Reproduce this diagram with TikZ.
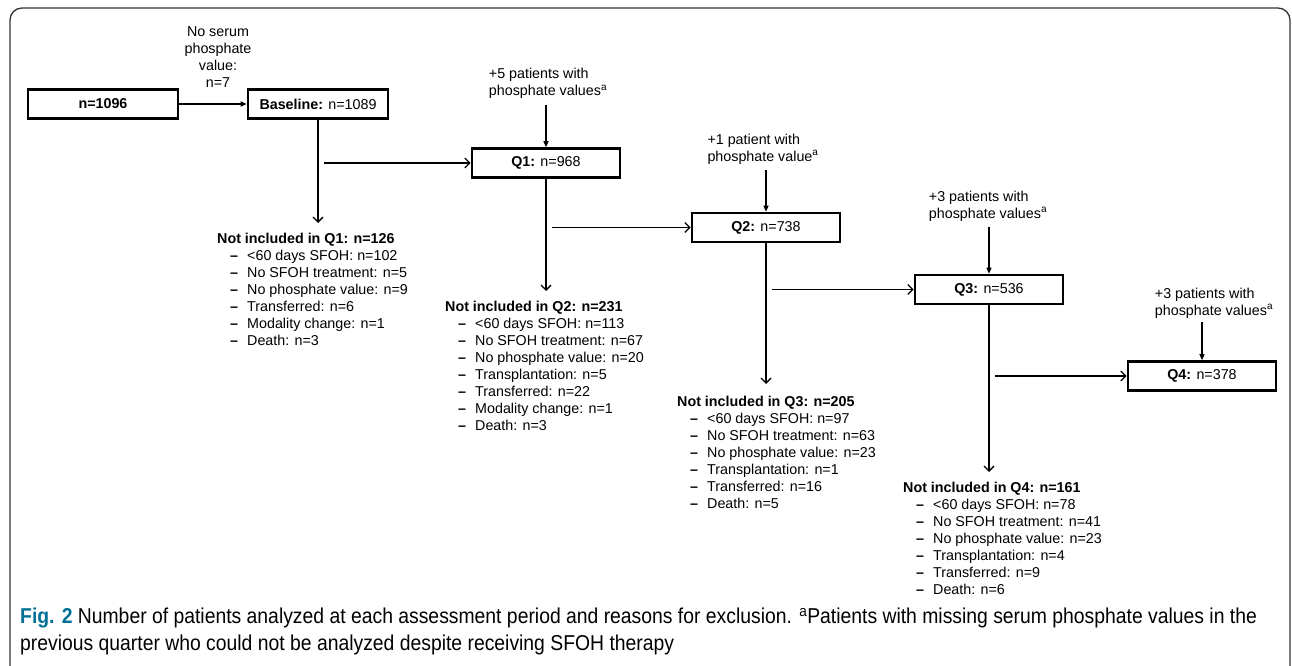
\documentclass[tikz,border=0pt]{standalone}
\usepackage{fontspec}
\setmainfont{Liberation Sans}
\newfontfamily\capfont[FakeStretch=0.9]{Liberation Sans}
\usetikzlibrary{arrows.meta}
\definecolor{figteal}{RGB}{0,112,150}
\newcommand{\itm}[1]{\\\hspace*{13pt}\makebox[17pt][l]{\textbf{--}}#1}

\begin{document}
\begin{tikzpicture}[x=1pt, y=-1pt,
  font=\fontsize{14.3}{17}\selectfont,
  stagebox/.style={draw, line width=2.6pt, minimum width=148pt, minimum height=29pt, inner sep=0pt},
  addlabel/.style={align=left, inner sep=0pt},
  droplist/.style={align=left, anchor=north west, inner sep=0pt},
  barb/.style={line width=1.3pt, -{Straight Barb[length=5pt, width=10pt]}},
  tri/.style={line width=1.3pt, -{Triangle[length=6pt, width=5pt]}}]
  \useasboundingbox (0,0) rectangle (1292,666);
  \draw[line width=1.3pt, black!80, rounded corners=12pt] (10,8) rectangle (1290,680);

  % stages
  \node[stagebox, minimum width=150pt] (total) at (103,104) {\textbf{n=1096}};
  \node[stagebox, minimum width=140pt] (base) at (318,104) {\textbf{Baseline:} n=1089};
  \node[stagebox] (q1) at (546,163) {\textbf{Q1:} n=968};
  \node[stagebox] (q2) at (766,227.5) {\textbf{Q2:} n=738};
  \node[stagebox] (q3) at (989,289.5) {\textbf{Q3:} n=536};
  \node[stagebox] (q4) at (1202,376) {\textbf{Q4:} n=378};

  % patients coming in
  \node[align=center, inner sep=0pt] (noval) at (218,57.5) {No serum\\phosphate\\value:\\n=7};
  \node[addlabel] (add1) at (548,83.5) {+5 patients with\\phosphate values\textsuperscript{a}};
  \node[addlabel] (add2) at (763,149) {+1 patient with\\phosphate value\textsuperscript{a}};
  \node[addlabel] (add3) at (988,206) {+3 patients with\\phosphate values\textsuperscript{a}};
  \node[addlabel] (add4) at (1214,303) {+3 patients with\\phosphate values\textsuperscript{a}};

  % patients dropped
  \node[droplist] (out1) at (217,233) {\textbf{Not included in Q1: n=126}
    \itm{<60 days SFOH: n=102}\itm{No SFOH treatment: n=5}\itm{No phosphate value: n=9}
    \itm{Transferred: n=6}\itm{Modality change: n=1}\itm{Death: n=3}};
  \node[droplist] (out2) at (445,301) {\textbf{Not included in Q2: n=231}
    \itm{<60 days SFOH: n=113}\itm{No SFOH treatment: n=67}\itm{No phosphate value: n=20}
    \itm{Transplantation: n=5}\itm{Transferred: n=22}\itm{Modality change: n=1}\itm{Death: n=3}};
  \node[droplist] (out3) at (677,396) {\textbf{Not included in Q3: n=205}
    \itm{<60 days SFOH: n=97}\itm{No SFOH treatment: n=63}\itm{No phosphate value: n=23}
    \itm{Transplantation: n=1}\itm{Transferred: n=16}\itm{Death: n=5}};
  \node[droplist] (out4) at (903,482) {\textbf{Not included in Q4: n=161}
    \itm{<60 days SFOH: n=78}\itm{No SFOH treatment: n=41}\itm{No phosphate value: n=23}
    \itm{Transplantation: n=4}\itm{Transferred: n=9}\itm{Death: n=6}};

  \draw[tri] (total) -- (base);
  \draw[tri, shorten <=6pt] (add1.south -| q1.north) -- (q1.north);
  \draw[tri, shorten <=6pt] (add2.south -| q2.north) -- (q2.north);
  \draw[tri, shorten <=6pt] (add3.south -| q3.north) -- (q3.north);
  \draw[tri, shorten <=4pt] (add4.south -| q4.north) -- (q4.north);

  \draw[barb, shorten >=10pt] (base.south) -- (base.south |- out1.north);
  \draw[barb, shorten >=10pt] (q1.south) -- (q1.south |- out2.north);
  \draw[barb, shorten >=12pt] (q2.south) -- (q2.south |- out3.north);
  \draw[barb, shorten >=10pt] (q3.south) -- (q3.south |- out4.north);
  \draw[barb, shorten <=6pt] (base.south |- q1.west) -- (q1.west);
  \draw[barb, shorten <=6pt] (q1.south |- q2.west) -- (q2.west);
  \draw[barb, shorten <=6pt] (q2.south |- q3.west) -- (q3.west);
  \draw[barb, shorten <=6pt] (q3.south |- q4.west) -- (q4.west);

  % caption
  \node[anchor=west, inner sep=0pt, align=left, font=\capfont\fontsize{21.5}{27}\selectfont] (caption) at (20,631.5)
    {\textcolor{figteal}{\textbf{Fig. 2}} Number of patients analyzed at each assessment period and reasons for exclusion. \textsuperscript{a}Patients with missing serum phosphate values in the\\
     previous quarter who could not be analyzed despite receiving SFOH therapy};
\end{tikzpicture}
\end{document}
